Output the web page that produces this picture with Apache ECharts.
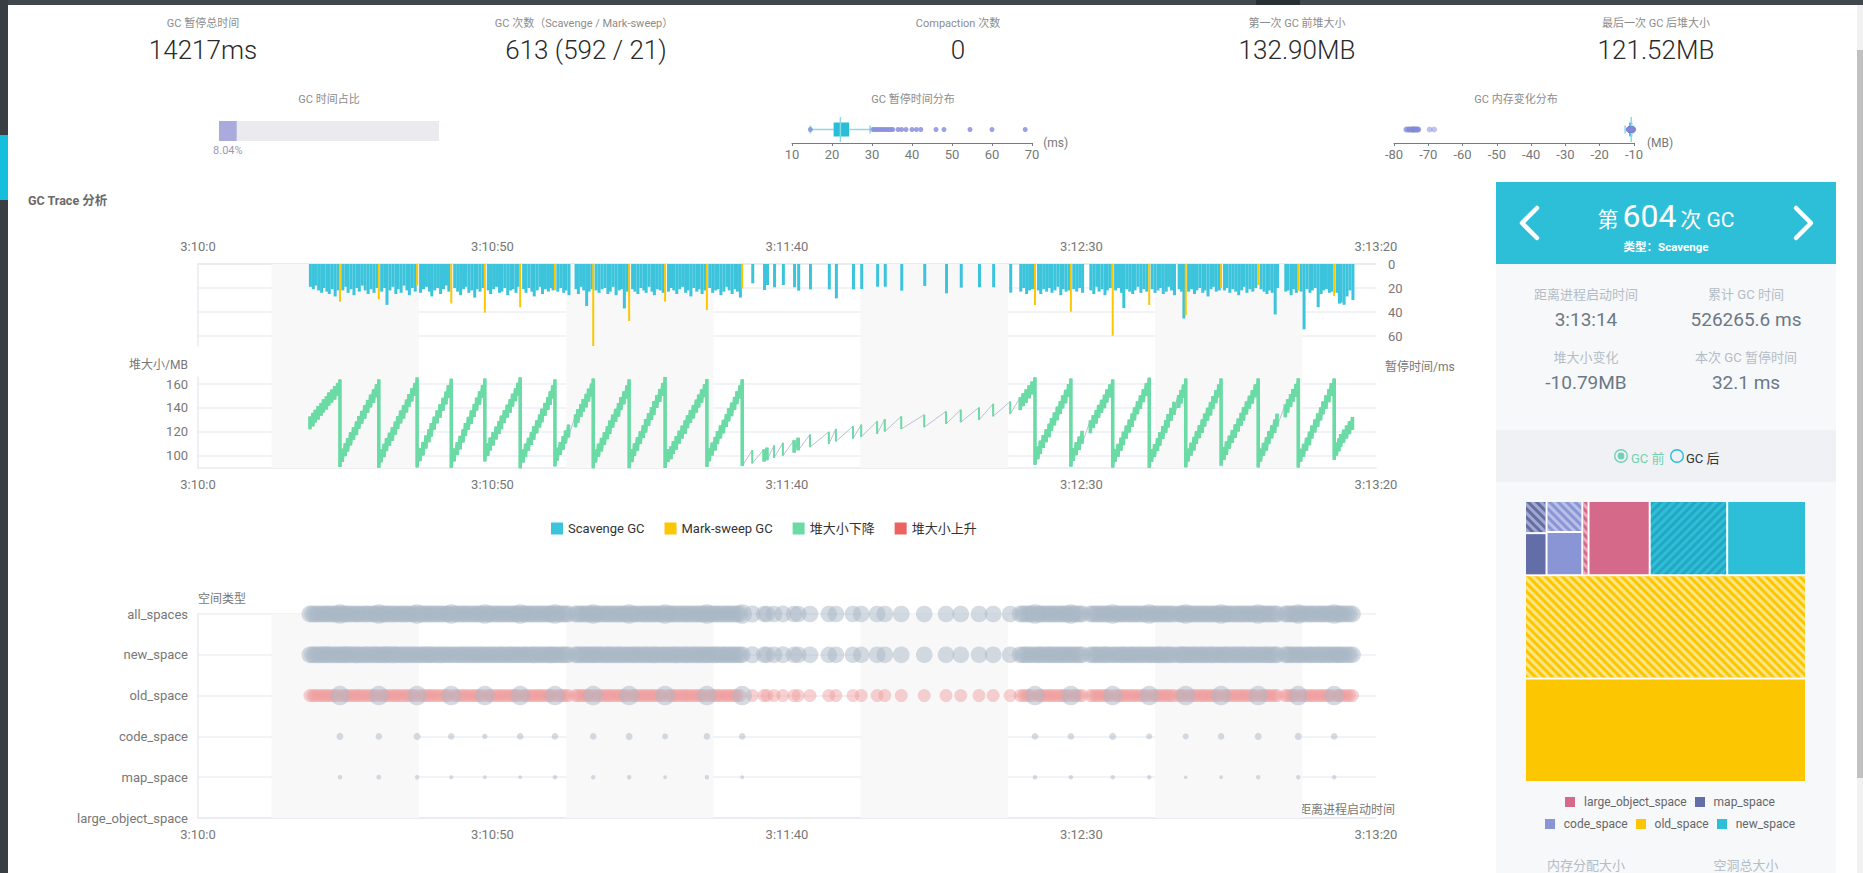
<!DOCTYPE html>
<html><head><meta charset="utf-8">
<script src="https://cdn.jsdelivr.net/npm/echarts@6/dist/echarts.min.js"></script>
<style>
html,body{margin:0;padding:0;width:1863px;height:873px;overflow:hidden;background:#fff;font-family:Roboto,"Noto Sans CJK SC",sans-serif;}
.abs{position:absolute;white-space:nowrap;}
.c{transform:translate(-50%,-50%);}
.lbl{font-size:11px;color:#8c8c8c;}
.val{font-size:26px;color:#2a2a2a;font-weight:300;}
.plbl{font-size:13px;color:#b3bcc7;}
.pval{font-size:19px;color:#6b7887;}
#chart{position:absolute;left:0;top:0;width:1863px;height:873px;}
.lg{display:flex;align-items:center;justify-content:center;font-size:12px;color:#666;}
.lg span.i{display:inline-block;width:10px;height:10px;margin:0 9px 0 8px;}
</style></head>
<body>
<div class="abs" style="left:0;top:0;width:1863px;height:5px;background:#41484c"></div>
<div class="abs" style="left:1256px;top:0;width:44px;height:5px;background:#2a2f33"></div>
<div class="abs" style="left:0;top:0;width:8px;height:873px;background:#393e42"></div>
<div class="abs" style="left:0;top:135px;width:8px;height:65px;background:#13bfdc"></div>
<div class="abs" style="left:1857px;top:5px;width:6px;height:868px;background:#f1f1f1"></div>
<div class="abs" style="left:1857px;top:50px;width:6px;height:728px;background:#c1c1c1"></div>

<div class="abs c lbl" style="left:203px;top:22px">GC 暂停总时间</div>
<div class="abs c val" style="left:203px;top:50px">14217ms</div>
<div class="abs c lbl" style="left:584px;top:22px">GC 次数（Scavenge / Mark-sweep）</div>
<div class="abs c val" style="left:586px;top:50px">613 (592 / 21)</div>
<div class="abs c lbl" style="left:958px;top:22px">Compaction 次数</div>
<div class="abs c val" style="left:958px;top:50px">0</div>
<div class="abs c lbl" style="left:1297px;top:22px">第一次 GC 前堆大小</div>
<div class="abs c val" style="left:1297px;top:50px">132.90MB</div>
<div class="abs c lbl" style="left:1656px;top:22px">最后一次 GC 后堆大小</div>
<div class="abs c val" style="left:1656px;top:50px">121.52MB</div>

<div class="abs c lbl" style="left:329px;top:98px">GC 时间占比</div>
<div class="abs c lbl" style="left:913px;top:98px">GC 暂停时间分布</div>
<div class="abs c lbl" style="left:1516px;top:98px">GC 内存变化分布</div>

<div class="abs" style="left:28px;top:190px;font-size:12.5px;font-weight:bold;color:#6a6a6a">GC Trace 分析</div>
<div class="abs" style="left:1385px;top:357px;font-size:12px;color:#777">暂停时间/ms</div>

<!-- right panel -->
<div class="abs" style="left:1496px;top:264px;width:340px;height:609px;background:#f7f8fa"></div>
<div class="abs" style="left:1496px;top:182px;width:340px;height:82px;background:#2ebfd8"></div>
<div class="abs" style="left:1496px;top:430px;width:340px;height:52px;background:#eff1f4"></div>
<svg class="abs" style="left:0;top:0" width="1863" height="873">
<polyline points="1537,208 1522,223 1537,238" fill="none" stroke="#fff" stroke-width="4.5" stroke-linecap="round" stroke-linejoin="round"/>
<polyline points="1796,208 1811,223 1796,238" fill="none" stroke="#fff" stroke-width="4.5" stroke-linecap="round" stroke-linejoin="round"/>
<circle cx="1621" cy="456" r="6.3" fill="none" stroke="#72d1b0" stroke-width="1.4"/>
<circle cx="1621" cy="456" r="3.4" fill="#72d1b0"/>
<circle cx="1677" cy="456" r="6.3" fill="none" stroke="#22bedd" stroke-width="1.4"/>
</svg>
<div class="abs" style="left:1496px;top:196px;width:340px;text-align:center;color:#fff;line-height:40px">
<span style="font-size:21px">第</span> <span style="font-size:32px">604</span> <span style="font-size:21px">次 GC</span></div>
<div class="abs c" style="left:1666px;top:246px;color:#fff;font-size:11.5px;font-weight:bold">类型：Scavenge</div>
<div class="abs c plbl" style="left:1586px;top:293px">距离进程启动时间</div>
<div class="abs c pval" style="left:1586px;top:319px">3:13:14</div>
<div class="abs c plbl" style="left:1746px;top:293px">累计 GC 时间</div>
<div class="abs c pval" style="left:1746px;top:319px">526265.6 ms</div>
<div class="abs c plbl" style="left:1586px;top:356px">堆大小变化</div>
<div class="abs c pval" style="left:1586px;top:382px">-10.79MB</div>
<div class="abs c plbl" style="left:1746px;top:356px">本次 GC 暂停时间</div>
<div class="abs c pval" style="left:1746px;top:382px">32.1 ms</div>
<div class="abs" style="left:1631px;top:448px;font-size:13px;color:#72d1b0">GC 前</div>
<div class="abs" style="left:1686px;top:448px;font-size:13px;color:#333">GC 后</div>
<div class="abs lg" style="left:1496px;top:795px;width:340px;height:14px">
<span class="i" style="background:#d4698a"></span>large_object_space<span class="i" style="background:#636ea8"></span>map_space</div>
<div class="abs lg" style="left:1496px;top:817px;width:340px;height:14px">
<span class="i" style="background:#8a95d6"></span>code_space<span class="i" style="background:#fcc600"></span>old_space<span class="i" style="background:#2ebfd8"></span>new_space</div>
<div class="abs c plbl" style="left:1586px;top:864px">内存分配大小</div>
<div class="abs c plbl" style="left:1746px;top:864px">空洞总大小</div>

<div id="chart"></div>
<script>
// ---------- DATA (seconds since 3:10:0; ms; MB) ----------
const scavTime = [
19.0,19.5,19.9,20.4,20.9,21.3,21.8,22.2,22.7,23.2,23.7,
24.5,25.0,25.4,25.9,26.4,26.9,27.3,27.8,28.3,28.8,29.3,29.8,30.3,
31.1,31.6,32.0,32.5,33.0,33.5,33.9,34.4,34.9,35.4,35.8,36.3,36.8,
37.7,38.2,38.7,39.2,39.6,40.1,40.6,41.1,41.6,42.1,42.5,
43.5,44.0,44.5,45.0,45.4,45.9,46.4,46.9,47.3,47.8,48.3,
49.2,49.6,50.1,50.6,51.1,51.5,52.0,52.5,53.0,53.4,53.9,54.3,
55.2,55.6,56.1,56.6,57.0,57.5,58.0,58.4,58.9,59.4,59.8,60.2,
61.0,61.5,62.0,62.4,62.9,64.1,64.5,65.0,65.4,65.9,66.3,66.8,
67.5,68.0,68.5,69.0,69.5,69.9,70.4,70.9,71.4,71.8,72.3,72.8,
73.7,74.1,74.6,75.1,75.6,76.0,76.5,77.0,77.4,77.9,78.4,78.9,
79.8,80.3,80.7,81.2,81.7,82.2,82.7,83.1,83.6,84.1,84.6,85.0,85.5,86.0,
86.8,87.3,87.8,88.2,88.7,89.2,89.7,90.1,90.6,91.1,91.5,92.0,
94.1,96.1,96.6,97.8,99.3,101.2,101.9,103.9,107.1,108.3,111.2,112.6,115.3,116.6,119.4,123.3,127.0,129.5,132.6,135.0,137.9,
139.6,140.1,140.6,141.1,141.6,
142.6,143.0,143.5,144.0,144.5,144.9,145.4,145.9,146.4,146.8,147.3,147.8,
148.6,149.1,149.6,150.1,151.5,152.0,152.5,152.9,153.4,153.9,154.3,154.8,
155.7,156.2,156.7,157.1,157.6,158.1,158.6,159.0,159.5,160.0,160.5,161.0,
161.9,162.4,162.9,163.3,163.8,164.3,164.7,165.2,165.7,166.5,166.9,167.3,
168.1,168.6,169.1,169.5,170.0,170.5,170.9,171.4,171.9,172.3,172.8,173.3,
174.2,174.6,175.1,175.6,176.1,176.6,177.1,177.5,178.0,178.5,179.0,179.5,
180.4,180.9,181.4,181.8,182.3,182.8,183.2,184.6,185.0,185.5,185.9,186.4,
187.2,187.7,188.2,188.7,189.1,189.6,190.1,190.6,191.0,191.5,192.0,192.4,
193.3,193.7,194.0,194.5,195.0,195.5,196.0];
const scavPause = [
19,21,18,22,24,20,23,25,21,27,22,
22,19,24,21,26,20,23,18,22,25,21,24,20,
23,20,34,22,19,25,21,24,18,22,26,20,23,
24,21,19,23,27,22,20,25,21,18,23,
20,23,26,21,19,24,22,28,21,23,20,
22,25,21,19,24,23,20,26,22,21,24,19,
21,24,20,23,27,22,19,25,21,23,20,22,
23,20,24,22,26,21,25,19,22,35,23,21,
22,24,21,20,25,23,19,26,22,21,37,23,
21,23,25,20,22,24,19,23,26,21,22,24,
23,20,22,25,21,19,24,22,27,20,23,21,25,22,
20,24,22,21,26,23,19,22,25,21,23,28,
16.1,21.7,17.5,19.4,17.5,19.4,22.2,21.1,21.1,28.6,21.1,20.8,18.9,18.9,22.2,18.3,24.4,19.7,19.4,19.4,23.9,
23,20,25,22,21,
22,25,21,23,20,24,22,19,26,21,23,22,
21,23,20,24,22,25,19,23,21,26,22,20,
22,20,24,36.7,21,23,25,22,19,24,21,23,
21,24,22,20,25,23,19,22,26,21,23,45.3,
23,21,25,22,20,24,22,27,21,19,23,22,
22,20,24,21,23,26,22,19,24,21,23,20,
21,23,25,22,24,42,20,23,22,26,21,24,
23,54.4,21,24,22,20,36,25,22,21,24,23,
24,33,32.1,34,27,22,30];
const scavHeapBefore = [
132.9,135.8,138.4,141.6,144.1,147.2,149.8,152.9,155.4,158.3,161.0,
105.7,110.4,114.6,119.5,123.8,128.6,133.1,137.5,142.2,146.7,151.2,155.6,159.9,
105.2,109.8,114.6,119.1,123.8,128.5,133.0,137.8,142.4,147.0,151.6,156.4,160.9,
106.1,111.4,116.8,122.0,127.3,132.6,137.9,143.2,148.5,153.7,159.1,
105.9,111.2,116.5,121.9,127.3,132.5,137.9,143.2,148.6,153.9,159.3,
110.5,115.1,119.7,124.3,128.9,133.5,138.1,142.7,147.3,151.9,156.5,161.1,
105.0,109.9,114.8,119.7,124.6,129.5,134.4,139.3,144.2,149.1,154.0,158.9,
106.5,111.3,116.2,121.0,125.9,134.6,138.9,143.2,147.5,151.8,156.1,160.4,
105.0,109.9,114.8,119.6,124.5,129.4,134.3,139.2,144.1,149.0,153.9,158.8,
105.3,110.2,115.4,120.4,125.5,130.6,135.6,140.7,145.7,150.8,155.9,160.9,
105.3,107.7,112.1,116.4,120.8,125.1,129.5,133.8,138.2,142.5,146.9,151.2,155.6,159.9,
106.0,110.8,115.6,120.4,125.2,130.0,134.8,139.6,144.4,149.2,154.0,158.8,
104.6,105.2,106.6,108.5,110.7,112.9,114.9,117.7,119.9,122.4,124.6,126.0,128.8,130.7,132.9,134.3,137.1,138.5,140.4,143.5,145.4,
149.0,152.3,155.6,158.9,162.2,
107.7,112.5,117.2,122.0,126.7,131.5,136.2,141.0,145.7,150.5,155.2,160.0,
106.3,111.1,115.9,120.7,129.6,133.9,138.2,142.5,146.8,151.1,155.4,159.7,
105.5,109.8,114.9,120.0,125.1,130.2,135.3,140.4,145.5,150.6,155.7,160.8,
105.4,109.5,114.6,119.6,124.7,129.8,134.9,140.0,145.1,150.8,155.1,159.6,
105.8,110.7,115.6,120.5,125.4,130.3,135.2,140.1,145.0,149.9,154.8,159.7,
107.1,111.8,116.6,121.4,126.2,131.0,135.8,140.6,145.4,150.2,155.0,159.8,
105.7,110.6,115.5,120.4,125.3,130.2,135.1,143.0,147.3,151.6,155.9,160.2,
105.6,109.8,114.9,120.0,125.1,130.2,135.3,140.4,145.5,150.6,155.7,160.8,
110.8,114.4,118.0,121.6,125.2,128.8,132.31];
const scavHeapAfter = [
122.1,124.6,127.9,130.2,133.5,136.3,138.7,142.0,144.6,147.1,150.2,
94.6,99.5,103.4,108.6,113.1,117.2,122.4,126.8,130.9,135.8,140.5,144.3,149.0,
94.4,98.6,103.7,108.2,112.4,117.6,122.3,127.0,131.1,136.2,140.9,145.5,150.1,
95.3,100.1,105.9,111.2,116.0,121.8,127.1,131.8,137.7,143.0,148.3,
95.1,100.4,105.2,111.1,116.4,121.7,126.6,132.4,137.8,142.7,148.5,
99.7,104.3,108.4,113.5,118.1,122.2,127.3,131.9,136.0,141.1,145.7,150.3,
94.2,98.7,104.0,108.9,113.2,118.7,123.6,128.0,133.4,138.3,142.6,148.1,
95.7,100.5,104.9,110.2,115.1,123.8,127.7,132.4,136.7,140.5,145.3,149.6,
94.2,99.0,103.5,108.8,113.7,118.1,123.5,128.4,132.8,138.2,143.1,148.0,
94.5,99.6,104.1,109.7,114.7,119.3,124.8,129.9,134.3,140.0,145.1,150.1,
94.5,96.9,101.3,105.0,110.0,114.3,118.2,123.0,127.4,131.2,136.1,140.4,144.3,149.1,
95.2,100.0,104.3,109.6,114.4,118.7,124.0,128.8,133.1,138.4,143.2,148.0,
93.4,95.0,96.0,97.9,99.8,102.5,104.3,107.0,109.6,111.8,114.1,115.6,118.2,120.1,122.3,123.8,126.6,128.0,129.9,132.9,134.9,
138.2,141.5,144.3,148.1,151.4,
96.9,101.2,106.4,111.2,115.4,120.7,125.4,129.7,134.9,139.7,143.9,149.2,
95.5,100.3,104.6,109.9,118.8,123.1,126.9,131.7,136.0,139.8,144.6,148.9,
94.7,99.0,104.1,108.7,114.3,119.4,124.0,129.6,134.7,139.3,144.9,150.0,
94.6,98.7,103.8,108.3,113.9,119.0,123.6,129.2,134.3,140.0,143.8,148.8,
95.0,99.9,104.3,109.7,114.6,119.0,124.4,129.3,133.7,139.1,144.0,148.9,
96.3,100.5,105.8,110.6,114.9,120.2,125.0,129.3,134.6,139.4,143.7,149.0,
94.9,99.8,104.2,109.6,114.5,118.9,124.3,132.2,136.0,140.8,145.1,149.4,
94.8,99.0,104.1,108.7,114.3,119.4,124.0,129.6,134.7,139.3,144.9,150.0,
100.0,103.6,107.21,110.8,114.4,118.0,121.52];

const msTime   = [24.1,30.7,37.2,43.0,48.7,54.7,60.6,67.1,73.2,79.3,86.4,92.4,142.1,148.2,155.3,161.5,167.7,173.7,180.0,186.8,192.9];
const msPause  = [31.4,29.4,18.0,32.8,40.5,36.1,21.7,68.3,47.5,31.4,38.3,20.3,34.2,39.7,59.7,34.2,42.5,20.0,17.5,22.2,26.7];
const msHeapBefore = [163.9,163.9,165.6,164.5,164.7,165.6,163.9,164.7,163.9,166.0,164.2,164.0,165.6,164.7,163.9,165.4,164.7,164.7,164.7,164.9,164.7];
const msHeapAfter  = [90.4,89.7,90.0,89.7,95.1,89.3,90.9,89.3,89.4,89.6,90.4,91.1,92.2,90.7,89.8,89.6,90.1,91.5,90.0,89.9,96.4];
const msCodeDelta  = [-0.9,-0.7,-0.9,-0.7,-0.3,-0.7,-0.7,-0.7,-0.9,-0.5,-0.7,-0.7,-0.7,-0.7,-0.9,-0.5,-0.5,-0.7,-0.9,-0.9,-0.7];
const msMapDelta   = [-0.12,-0.2,-0.12,-0.08,-0.04,-0.04,-0.12,-0.12,-0.12,-0.04,-0.12,-0.04,-0.12,-0.12,-0.12,-0.12,-0.02,-0.04,-0.12,-0.12,-0.12];

const gcTimeRatio = 8.04;
const pauseBoxStats = [14.6, 20.4, 22.1, 24.3, 29.5];
const pauseOutliers = [14.6,30.2,30.6,31.0,31.4,31.9,32.3,32.8,33.3,33.8,34.3,34.8,35.2,36.5,37.4,38.5,40.0,41.1,42.2,46.0,48.0,54.5,60.0,68.3];
const memBoxStats = [-12.6, -11.4, -10.8, -10.5, -10.1];
const shadeBands = [[12.5,37.5],[62.5,87.5],[112.5,137.5],[162.5,187.5]];
const spaceCategories = ['large_object_space','map_space','code_space','old_space','new_space','all_spaces'];
const tmNames  = ['large_object_space','map_space','code_space','old_space','new_space'];
const tmUsedMB = [6.71, 1.34, 2.28, 42.90, 8.64];
const tmFreeMB = [0.68, 1.02, 1.64, 42.75, 8.49];
const timeBaseSec = 3*3600 + 10*60;

// ---------- styles ----------
const tmColors = {large_object_space:'#d4698a', map_space:'#636ea8', code_space:'#8a95d6', old_space:'#fcc600', new_space:'#2ebfd8'};
const tmDecal = {
  large_object_space:{color:'rgba(255,255,255,0.45)', rotation:Math.PI/4},
  map_space:{color:'rgba(255,255,255,0.4)', rotation:Math.PI/4},
  code_space:{color:'rgba(255,255,255,0.4)', rotation:Math.PI/4},
  old_space:{color:'rgba(255,240,180,0.75)', rotation:Math.PI/4},
  new_space:{color:'rgba(20,120,150,0.35)', rotation:-Math.PI/4}
};
const axisGrey = '#e8eaef', labelGrey = '#777', heapGreen = '#6adba4';
const DENSE_PX = 5;
const fmtTime = v => { const s = timeBaseSec + Math.round(v); return Math.floor(s/3600)+':'+Math.floor((s%3600)/60)+':'+(s%60); };

// ---------- build ----------
const events = scavTime.map((t,i)=>({t, b:scavHeapBefore[i], a:scavHeapAfter[i]}))
  .concat(msTime.map((t,i)=>({t, b:msHeapBefore[i], a:msHeapAfter[i]})))
  .sort((x,y)=>x.t-y.t);
const heapLine = [];
events.forEach(e=>{ heapLine.push([e.t,e.b]); heapLine.push([e.t,e.a]); });
// drop segments carry previous/next event time so the renderer can judge local density
const drops = events.map((e,i)=>[e.t,e.b,e.a, i>0?events[i-1].t:-999, i<events.length-1?events[i+1].t:999]).filter(d=>d[2]<d[1]);
const rises = events.map((e,i)=>[e.t,e.b,e.a, i>0?events[i-1].t:-999, i<events.length-1?events[i+1].t:999]).filter(d=>d[2]>d[1]);
const growth = events.slice(1).map((e,i)=>[events[i].t, events[i].a, e.t, e.b]);
const memDots = events.map(e=>[e.a-e.b, 0.5]);

const scavDelta = scavTime.map((t,i)=>scavHeapAfter[i]-scavHeapBefore[i]);
const msDelta = msTime.map((t,i)=>msHeapAfter[i]-msHeapBefore[i]);
const allSpaces = scavTime.map((t,i)=>[t,'all_spaces',scavDelta[i]]).concat(msTime.map((t,i)=>[t,'all_spaces',msDelta[i]]));
const newSpace = scavTime.map((t,i)=>[t,'new_space',scavDelta[i]]).concat(msTime.map((t,i)=>[t,'new_space',scavDelta[0]]));
const oldUp = scavTime.map(t=>[t,'old_space']);
const oldMs = msTime.map((t,i)=>[t,'old_space',msDelta[i]]);
const codeMs = msTime.map((t,i)=>[t,'code_space',msCodeDelta[i]]);
const mapMs = msTime.map((t,i)=>[t,'map_space',msMapDelta[i]]);
const bubble = v => Math.min(19.5, 3 + 4.2*Math.sqrt(Math.abs(v[2])));

function renderBox(params, api){
  const v=[0,1,2,3,4].map(i=>api.value(i));
  const X=x=>api.coord([x,0.5])[0]; const y=api.coord([v[0],0.5])[1];
  const lc='#8ad9e7';
  return {type:'group',children:[
    {type:'line',shape:{x1:X(v[0]),y1:y,x2:X(v[1]),y2:y},style:{stroke:lc,lineWidth:1.5}},
    {type:'line',shape:{x1:X(v[3]),y1:y,x2:X(v[4]),y2:y},style:{stroke:lc,lineWidth:1.5}},
    {type:'line',shape:{x1:X(v[0]),y1:y-4,x2:X(v[0]),y2:y+4},style:{stroke:lc,lineWidth:1.5}},
    {type:'line',shape:{x1:X(v[4]),y1:y-4,x2:X(v[4]),y2:y+4},style:{stroke:lc,lineWidth:1.5}},
    {type:'rect',shape:{x:X(v[1]),y:y-7,width:Math.max(2,X(v[3])-X(v[1])),height:14},style:{fill:'#2abdd8'}},
    {type:'line',shape:{x1:X(v[2]),y1:y-12.5,x2:X(v[2]),y2:y+12.5},style:{stroke:lc,lineWidth:1.5}}
  ]};
}
function renderSeg(params, api){
  const t=api.value(0);
  const p1=api.coord([t,api.value(1)]), p2=api.coord([t,api.value(2)]);
  const gPrev = p1[0]-api.coord([api.value(3),0])[0], gNext = api.coord([api.value(4),0])[0]-p1[0];
  const dense = Math.min(gPrev,gNext) < DENSE_PX;
  return {type:'line',shape:{x1:p1[0],y1:p1[1],x2:p2[0],y2:p2[1]},
    style:{stroke:api.visual('color'),lineWidth: dense ? 3.6 : 2}};
}
function renderGrowth(params, api){
  const p1=api.coord([api.value(0),api.value(1)]), p2=api.coord([api.value(2),api.value(3)]);
  if (p2[0]-p1[0] >= DENSE_PX) return null;
  return {type:'line',shape:{x1:p1[0],y1:p1[1],x2:p2[0],y2:p2[1]},style:{stroke:heapGreen,lineWidth:2.5}};
}
const timeAxis = (grid, pos, extra) => Object.assign({gridIndex:grid, type:'value', min:0, max:200, interval:50, position:pos,
  axisLine:{show:true, lineStyle:{color:axisGrey, width:1.5}}, axisTick:{show:false}, splitLine:{show:false},
  axisLabel:{color:labelGrey, fontSize:13, margin:10, formatter:fmtTime}}, extra||{});
const miniAxis = (grid, mn, mx, name) => ({gridIndex:grid, type:'value', min:mn, max:mx, interval:10,
  axisLine:{show:true, lineStyle:{color:'#6f7c89'}}, axisTick:{show:true, length:3, lineStyle:{color:'#6f7c89'}},
  axisLabel:{color:labelGrey, fontSize:13, margin:5}, splitLine:{show:false},
  name:name, nameGap:9, nameTextStyle:{color:labelGrey, fontSize:12}});

const chart = echarts.init(document.getElementById('chart'), null, {renderer:'svg'});
chart.setOption({
  animation:false,
  textStyle:{fontFamily:'Roboto, "Noto Sans CJK SC", sans-serif'},
  legend:{left:546, top:517, itemWidth:12, itemHeight:12, itemGap:20, icon:'rect',
    textStyle:{fontSize:13, color:'#333'}, data:['Scavenge GC','Mark-sweep GC','堆大小下降','堆大小上升']},
  grid:[
    {left:219, top:121, width:220, height:20},
    {left:792, top:116, width:240, height:27},
    {left:1394, top:116, width:240, height:27},
    {left:198, top:264, width:1178, height:204},
    {left:198, top:264, width:1178, height:82},
    {left:198, top:377, width:1178, height:91},
    {left:198, top:614, width:1178, height:204}
  ],
  xAxis:[
    {gridIndex:0, type:'value', min:0, max:100, show:false},
    miniAxis(1, 10, 70, '(ms)'),
    miniAxis(2, -80, -10, '(MB)'),
    {gridIndex:3, type:'value', min:0, max:200, show:false},
    timeAxis(4, 'top', {axisLabel:{color:labelGrey, fontSize:13, margin:11, formatter:fmtTime}}),
    timeAxis(5, 'bottom'),
    timeAxis(6, 'bottom', {name:'距离进程启动时间', nameLocation:'end', nameGap:19,
      nameTextStyle:{color:labelGrey, fontSize:12, align:'right', verticalAlign:'bottom', padding:[0,0,2,0]}})
  ],
  yAxis:[
    {gridIndex:0, type:'category', data:['ratio'], show:false},
    {gridIndex:1, type:'value', min:0, max:1, show:false},
    {gridIndex:2, type:'value', min:0, max:1, show:false},
    {gridIndex:3, type:'value', min:0, max:1, show:false},
    {gridIndex:4, type:'value', min:0, max:68.3, interval:20, inverse:true, position:'right',
      axisLine:{show:true, lineStyle:{color:axisGrey, width:1.5}}, axisTick:{show:false},
      axisLabel:{color:labelGrey, fontSize:13, margin:12, showMaxLabel:false},
      splitLine:{show:true, showMaxLine:false, lineStyle:{color:'#eeeff3', width:1.5}}},
    {gridIndex:5, type:'value', min:89.5, max:166, position:'left',
      axisLine:{show:true, lineStyle:{color:axisGrey, width:1.5}}, axisTick:{show:false},
      axisLabel:{color:labelGrey, fontSize:13, margin:10, showMinLabel:false, showMaxLabel:false},
      splitLine:{show:true, showMinLine:false, showMaxLine:false, lineStyle:{color:'#eeeff3', width:1.5}},
      name:'堆大小/MB', nameLocation:'end', nameGap:6,
      nameTextStyle:{color:labelGrey, fontSize:12, align:'right', verticalAlign:'bottom', padding:[0,10,0,0]}},
    {gridIndex:6, type:'category', data:spaceCategories, boundaryGap:false,
      axisLine:{show:true, lineStyle:{color:axisGrey, width:1.5}}, axisTick:{show:false},
      axisLabel:{color:labelGrey, fontSize:13, margin:10},
      splitLine:{show:true, lineStyle:{color:'#eeeff3', width:1.5}},
      name:'空间类型', nameLocation:'end', nameGap:9,
      nameTextStyle:{color:labelGrey, fontSize:12, align:'left', verticalAlign:'bottom'}}
  ],
  series:[
    {type:'bar', xAxisIndex:0, yAxisIndex:0, data:[gcTimeRatio], barWidth:20, silent:true,
      showBackground:true, backgroundStyle:{color:'#ebebef'}, itemStyle:{color:'#aaaadc'},
      label:{show:true, position:'bottom', distance:4, fontSize:11, color:'#9a9aae', formatter:'{c}%'}},
    {type:'custom', xAxisIndex:1, yAxisIndex:1, data:[pauseBoxStats], encode:{x:[0,1,2,3,4]}, renderItem:renderBox, silent:true},
    {type:'scatter', xAxisIndex:1, yAxisIndex:1, data:pauseOutliers.map(v=>[v,0.5]), symbolSize:5,
      itemStyle:{color:'#8a90dc', opacity:0.85}, silent:true},
    {type:'scatter', xAxisIndex:2, yAxisIndex:2, data:memDots, symbolSize:6,
      itemStyle:{color:'#8189d8', opacity:0.5}, silent:true},
    {type:'custom', xAxisIndex:2, yAxisIndex:2, data:[memBoxStats], encode:{x:[0,1,2,3,4]}, renderItem:renderBox, silent:true},
    {type:'line', xAxisIndex:3, yAxisIndex:3, data:[[0,0]], showSymbol:false, lineStyle:{opacity:0}, silent:true, z:0,
      markArea:{silent:true, itemStyle:{color:'#f8f8f9'}, data:shadeBands.map(b=>[{xAxis:b[0]},{xAxis:b[1]}])}},
    {name:'Scavenge GC', type:'bar', xAxisIndex:4, yAxisIndex:4, barWidth:3, barGap:'-100%',
      data:scavTime.map((t,i)=>[t,scavPause[i]]), itemStyle:{color:'#3cc4dc'}},
    {name:'Mark-sweep GC', type:'bar', xAxisIndex:4, yAxisIndex:4, barWidth:2, barGap:'-100%',
      data:msTime.map((t,i)=>[t,msPause[i]]), itemStyle:{color:'#fcc700'}, z:3},
    {type:'line', xAxisIndex:5, yAxisIndex:5, data:heapLine, showSymbol:false, silent:true,
      lineStyle:{color:'#b7c1d3', width:1}},
    {type:'custom', xAxisIndex:5, yAxisIndex:5, data:growth, encode:{x:[0,2], y:[1,3]},
      renderItem:renderGrowth, silent:true, z:3},
    {name:'堆大小下降', type:'custom', xAxisIndex:5, yAxisIndex:5, data:drops, encode:{x:0, y:[1,2]},
      renderItem:renderSeg, itemStyle:{color:heapGreen}, z:4},
    {name:'堆大小上升', type:'custom', xAxisIndex:5, yAxisIndex:5, data:rises, encode:{x:0, y:[1,2]},
      renderItem:renderSeg, itemStyle:{color:'#ec6262'}, z:4},
    {type:'line', xAxisIndex:6, yAxisIndex:6, data:[], showSymbol:false, silent:true, z:0,
      markArea:{silent:true, itemStyle:{color:'#f8f8f9'}, data:shadeBands.map(b=>[{xAxis:b[0]},{xAxis:b[1]}])}},
    {type:'scatter', xAxisIndex:6, yAxisIndex:6, data:oldUp, symbolSize:13, silent:true,
      itemStyle:{color:'#f09c9c', opacity:0.45}},
    {type:'scatter', xAxisIndex:6, yAxisIndex:6, data:allSpaces.concat(newSpace, oldMs, codeMs, mapMs), symbolSize:bubble, silent:true,
      itemStyle:{color:'#a9b7c6', opacity:0.5}},
    {type:'treemap', left:1526, top:502, width:279, height:279, roam:false, nodeClick:false, silent:true,
      breadcrumb:{show:false}, sort:'asc', label:{show:false}, upperLabel:{show:false},
      levels:[{itemStyle:{borderWidth:0, gapWidth:2}}, {itemStyle:{borderWidth:0, gapWidth:2}}, {itemStyle:{borderWidth:0}}],
      data:tmNames.map((n,i)=>({name:n, children:[
        {name:n+' free', value:tmFreeMB[i], itemStyle:{color:tmColors[n],
          decal:{symbol:'rect', symbolSize:1, dashArrayX:[1,0], dashArrayY:[2.5,2.5], rotation:tmDecal[n].rotation, color:tmDecal[n].color}}},
        {name:n+' used', value:tmUsedMB[i], itemStyle:{color:tmColors[n]}}
      ]}))}
  ]
});
</script>
</body></html>
